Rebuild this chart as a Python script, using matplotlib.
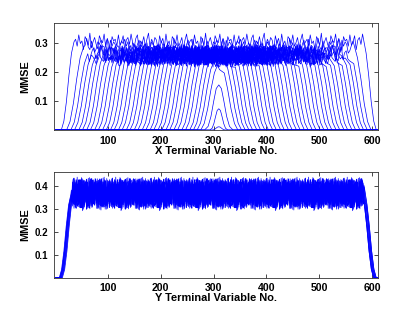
import matplotlib
matplotlib.use("Agg")
import numpy as np
import matplotlib.pyplot as plt

# ---------------------------------------------
# Values
# ---------------------------------------------
# top panel: one curve per entry (left foot, right foot, plateau level)
x_left = [12, 22, 30, 37, 45, 52, 60, 67, 75, 82, 90, 97, 105, 112, 120, 127,
          135, 142, 150, 157, 165, 172, 180, 187, 195, 202, 210, 217, 225, 232,
          240, 247, 255, 262, 269, 276]
x_right = [608, 598, 591, 584, 577, 569, 562, 554, 547, 539, 532, 524, 517, 509,
           502, 494, 487, 479, 472, 464, 457, 449, 442, 434, 427, 419, 412, 404,
           397, 389, 382, 374, 367, 360, 353, 346]
x_level = [0.303, 0.285, 0.262, 0.258, 0.256, 0.255, 0.262, 0.254, 0.256, 0.25,
           0.257, 0.254, 0.26, 0.255, 0.254, 0.256, 0.252, 0.253, 0.26, 0.254,
           0.255, 0.25, 0.258, 0.254, 0.255, 0.252, 0.254, 0.258, 0.252, 0.254,
           0.25, 0.252, 0.248, 0.245, 0.238, 0.225]
# small bumps in the middle of the top panel
bump_left = [283, 293, 297]
bump_right = [337, 327, 323]
bump_peak = [0.155, 0.073, 0.011]

# bottom panel: overlapping noisy curves
y_left = [8, 12, 10, 14, 9, 11, 13, 10, 12, 9]
y_right = [604, 608, 603, 606, 605, 607, 604, 606, 608, 603]
y_level = [0.362, 0.368, 0.365, 0.372, 0.358, 0.366, 0.364, 0.37, 0.361, 0.367]

# jagged offsets read from the plateau ripple (unit scale)
ripple = [0.3, -0.5, 0.8, -0.2, 0.1, -0.9, 0.6, 0.2, -0.4, 1.0, -0.7, 0.0, 0.5,
          -0.3, -0.8, 0.7, 0.2, -0.1, 0.9, -0.6, 0.4, -0.2, -1.0, 0.6, 0.1, 0.3,
          -0.5, 0.8, -0.4, 0.0, 0.7, -0.9, 0.2, 0.5, -0.3, 0.9, -0.1, -0.6, 0.4,
          0.8, -0.8, 0.1, -0.2, 0.6, -0.5, 0.3, 1.0, -0.7, 0.0, -0.4, 0.5, 0.2,
          -0.9, 0.7, -0.1, 0.4, -0.6, 0.9, -0.3, 0.1, -0.8, 0.6, 0.3, -0.2, 0.8,
          -0.5, -0.1, 0.5, -0.7, 0.2, 0.9, -0.4, 0.0]
# which order each curve walks the ripple list in
strides = [1, 2, 3, 5, 7, 11, 13, 17, 19, 23, 29, 31]

x_ticks = [100, 200, 300, 400, 500, 600]
top_yticks = [0.1, 0.2, 0.3]
bot_yticks = [0.1, 0.2, 0.3, 0.4]

plt.rcParams["font.family"] = ["Liberation Sans", "DejaVu Sans"]
plt.rcParams["font.weight"] = "bold"

# rise profile of an edge (fraction of width, fraction of height)
edge_fx = [0.0, 0.2, 0.4, 0.6, 0.8, 1.0]
edge_fy = [0.0, 0.1, 0.32, 0.62, 0.87, 1.0]


def curve(lo, hi, level, width, step, amp, k):
    xs = [1, lo]
    ys = [0, 0]
    for fx, fy in zip(edge_fx[1:], edge_fy[1:]):
        xs.append(lo + fx * width)
        ys.append(fy * level)
    n = len(ripple)
    st = strides[k % len(strides)]
    i = 0
    for x in range(int(lo + width) + step, int(hi - width), step):
        xs.append(x)
        ys.append(level + amp * ripple[(i * st + 7 * k) % n])
        i += 1
    for fx, fy in zip(edge_fx[::-1][1:], edge_fy[::-1][1:]):
        xs.append(hi - fx * width)
        ys.append(fy * level)
    xs.append(611)
    ys.append(0)
    return xs, ys


fig = plt.figure(figsize=(4.18, 3.14), dpi=100)
ax1 = fig.add_axes([0.129, 0.586, 0.775, 0.341])
ax2 = fig.add_axes([0.129, 0.115, 0.775, 0.337])

# -----------------------------
# top panel
# -----------------------------
for k in range(len(x_left)):
    w = 24 if k == 0 else 32
    amp = 0.03 if k < 2 else 0.034
    xs, ys = curve(x_left[k], x_right[k], x_level[k], w, 3, amp, k)
    ax1.plot(xs, ys, color="blue", lw=0.5)

for k in range(len(bump_left)):
    lo, hi, pk = bump_left[k], bump_right[k], bump_peak[k]
    mid = (lo + hi) / 2
    fr = [0.0, 0.25, 0.45, 0.65, 0.82, 1.0]
    hv = [0.0, 0.08, 0.3, 0.65, 0.92, 1.0]
    xs = [1] + [lo + f * (mid - lo) for f in fr] + \
         [hi - f * (hi - mid) for f in fr[::-1][1:]] + [611]
    ys = [0] + [h * pk for h in hv] + [h * pk for h in hv[::-1][1:]] + [0]
    ax1.plot(xs, ys, color="blue", lw=0.5)

# -----------------------------
# bottom panel
# -----------------------------
for k in range(len(y_left)):
    xs, ys = curve(y_left[k], y_right[k], y_level[k], 22, 1, 0.066, k)
    ax2.plot(xs, ys, color="blue", lw=0.5)

for ax, yt, ylim, xl in [(ax1, top_yticks, 0.368, "X Terminal Variable No."),
                         (ax2, bot_yticks, 0.46, "Y Terminal Variable No.")]:
    ax.set_xlim(-2, 611)
    ax.set_ylim(0, ylim)
    ax.set_xticks(x_ticks)
    ax.set_yticks(yt)
    ax.tick_params(direction="in", top=True, right=True, length=3,
                   width=0.5, pad=4, labelsize=7.6)
    ax.tick_params(axis="y", labelsize=7.0, pad=4)
    for s in ax.spines.values():
        s.set_linewidth(0.6)
        s.set_color("#333333")
    ax.set_xlabel(xl, fontsize=7.9, fontweight="bold", labelpad=0)
    ax.set_ylabel("MMSE", fontsize=7.8, fontweight="bold", labelpad=3,
                  family=["Liberation Sans Narrow", "Liberation Sans"])

plt.savefig("out.png", dpi=100)
plt.close()
